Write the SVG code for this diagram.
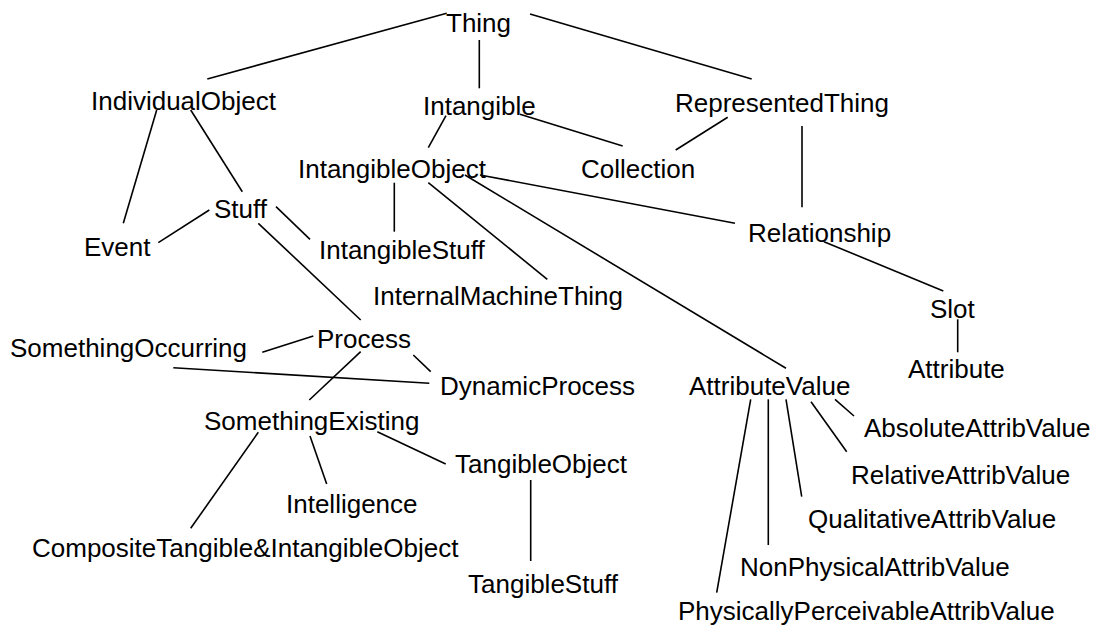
<svg xmlns="http://www.w3.org/2000/svg" width="1100" height="628" viewBox="0 0 1100 628">
<style>
  .lbl { font-family: "Liberation Sans", Arial, sans-serif; font-size: 26px; fill: #000; }
  .edge { stroke: #000; stroke-width: 1.6; fill: none; }
</style>
<rect width="1100" height="628" fill="#fff"/>
<g id="connectors">
  <line class="edge" x1="446.7" y1="13.3" x2="207.3" y2="79"/>
  <line class="edge" x1="479.3" y1="40" x2="479.3" y2="88.3"/>
  <line class="edge" x1="530" y1="14" x2="751.7" y2="79"/>
  <line class="edge" x1="156.7" y1="110" x2="123.3" y2="223.3"/>
  <line class="edge" x1="190.7" y1="110" x2="242.3" y2="191.7"/>
  <line class="edge" x1="446" y1="115.7" x2="428.3" y2="147.7"/>
  <line class="edge" x1="520" y1="114.3" x2="622.7" y2="146"/>
  <line class="edge" x1="727.7" y1="117.3" x2="675.7" y2="150"/>
  <line class="edge" x1="802" y1="126" x2="802" y2="207.3"/>
  <line class="edge" x1="394.3" y1="182.7" x2="394.3" y2="231.7"/>
  <line class="edge" x1="428.3" y1="182.7" x2="547.3" y2="279.3"/>
  <line class="edge" x1="465" y1="175" x2="786" y2="368.3"/>
  <line class="edge" x1="480" y1="175" x2="735" y2="223.3"/>
  <line class="edge" x1="158.3" y1="242.7" x2="209.3" y2="210"/>
  <line class="edge" x1="276" y1="206.7" x2="310" y2="239.3"/>
  <line class="edge" x1="258.3" y1="223.3" x2="360.7" y2="320"/>
  <line class="edge" x1="824" y1="241.7" x2="943.3" y2="291"/>
  <line class="edge" x1="957.7" y1="319.3" x2="957.7" y2="352.3"/>
  <line class="edge" x1="262.3" y1="352.3" x2="313.3" y2="336"/>
  <line class="edge" x1="173.3" y1="367.7" x2="429.3" y2="383.3"/>
  <line class="edge" x1="360.7" y1="351.7" x2="309.3" y2="400"/>
  <line class="edge" x1="413.3" y1="355" x2="430.7" y2="371.7"/>
  <line class="edge" x1="258.3" y1="432.3" x2="190.7" y2="528.3"/>
  <line class="edge" x1="310" y1="436" x2="326.7" y2="484"/>
  <line class="edge" x1="377.3" y1="431.7" x2="445.7" y2="464"/>
  <line class="edge" x1="530.7" y1="480" x2="530.7" y2="561"/>
  <line class="edge" x1="750.7" y1="399.3" x2="716.7" y2="592.7"/>
  <line class="edge" x1="768.3" y1="399.3" x2="768.3" y2="545"/>
  <line class="edge" x1="786" y1="399.3" x2="801.7" y2="496.7"/>
  <line class="edge" x1="811" y1="401.7" x2="846.7" y2="451.7"/>
  <line class="edge" x1="835" y1="399.3" x2="854" y2="416"/>
</g>
<g id="n-thing"><text class="lbl" x="446" y="32">Thing</text></g>
<g id="n-individualobject"><text class="lbl" x="91" y="110">IndividualObject</text></g>
<g id="n-intangible"><text class="lbl" x="423" y="115">Intangible</text></g>
<g id="n-representedthing"><text class="lbl" x="675" y="112">RepresentedThing</text></g>
<g id="n-intangibleobject"><text class="lbl" x="298" y="178">IntangibleObject</text></g>
<g id="n-collection"><text class="lbl" x="581" y="178">Collection</text></g>
<g id="n-stuff"><text class="lbl" x="214" y="218">Stuff</text></g>
<g id="n-event"><text class="lbl" x="84" y="256">Event</text></g>
<g id="n-intangiblestuff"><text class="lbl" x="319" y="259">IntangibleStuff</text></g>
<g id="n-relationship"><text class="lbl" x="748" y="242">Relationship</text></g>
<g id="n-internalmachinething"><text class="lbl" x="373" y="305">InternalMachineThing</text></g>
<g id="n-slot"><text class="lbl" x="930" y="318">Slot</text></g>
<g id="n-process"><text class="lbl" x="317" y="348">Process</text></g>
<g id="n-somethingoccurring"><text class="lbl" x="10" y="357">SomethingOccurring</text></g>
<g id="n-attribute"><text class="lbl" x="908" y="378">Attribute</text></g>
<g id="n-dynamicprocess"><text class="lbl" x="440" y="395">DynamicProcess</text></g>
<g id="n-attributevalue"><text class="lbl" x="689" y="395">AttributeValue</text></g>
<g id="n-somethingexisting"><text class="lbl" x="204" y="430">SomethingExisting</text></g>
<g id="n-absoluteattribvalue"><text class="lbl" x="864" y="437">AbsoluteAttribValue</text></g>
<g id="n-tangibleobject"><text class="lbl" x="455" y="473">TangibleObject</text></g>
<g id="n-relativeattribvalue"><text class="lbl" x="851" y="484">RelativeAttribValue</text></g>
<g id="n-intelligence"><text class="lbl" x="286" y="513">Intelligence</text></g>
<g id="n-qualitativeattribvalue"><text class="lbl" x="808" y="528">QualitativeAttribValue</text></g>
<g id="n-composite"><text class="lbl" x="32" y="557">CompositeTangible&amp;IntangibleObject</text></g>
<g id="n-nonphysicalattribvalue"><text class="lbl" x="740" y="576">NonPhysicalAttribValue</text></g>
<g id="n-tangiblestuff"><text class="lbl" x="468" y="593">TangibleStuff</text></g>
<g id="n-physicallyperceivableattribvalue"><text class="lbl" x="678" y="620">PhysicallyPerceivableAttribValue</text></g>
</svg>
